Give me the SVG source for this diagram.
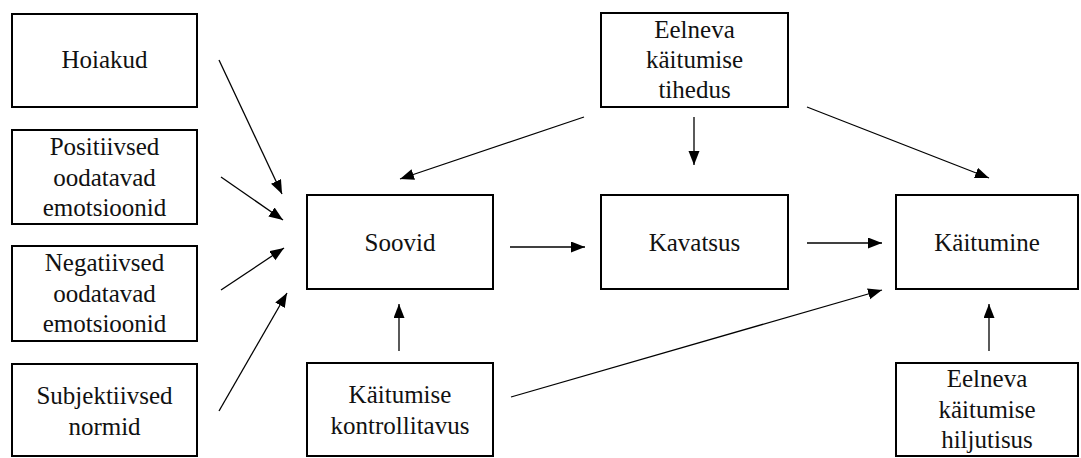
<svg xmlns="http://www.w3.org/2000/svg" width="1081" height="458" viewBox="0 0 1081 458">
  <style>
    .box { fill: #ffffff; stroke: #000000; stroke-width: 2; }
    .lbl { font-family: 'Liberation Serif', 'Times New Roman', Times, 'DejaVu Serif', 'Noto Serif', FreeSerif, serif; font-size: 25px; fill: #111111; text-anchor: middle; }
    .edge { stroke: #000000; stroke-width: 1.3; fill: none; marker-end: url(#head); }
  </style>
  <defs>
    <marker id="head" markerUnits="userSpaceOnUse" markerWidth="15" markerHeight="12" refX="14" refY="5.5" orient="auto">
      <path d="M0,0 L14,5.5 L0,11 Z" fill="#000000"/>
    </marker>
  </defs>
  <rect width="1081" height="458" fill="#ffffff"/>

  <g id="hoiakud">
    <rect class="box" x="12" y="14" width="185" height="93"/>
    <text class="lbl" x="104.5" y="68">Hoiakud</text>
  </g>
  <g id="positiivsed">
    <rect class="box" x="12" y="130" width="185" height="94"/>
    <text class="lbl" x="104.5" y="155">Positiivsed</text>
    <text class="lbl" x="104.5" y="186">oodatavad</text>
    <text class="lbl" x="104.5" y="216">emotsioonid</text>
  </g>
  <g id="negatiivsed">
    <rect class="box" x="12" y="246" width="185" height="95"/>
    <text class="lbl" x="104.5" y="271">Negatiivsed</text>
    <text class="lbl" x="104.5" y="302">oodatavad</text>
    <text class="lbl" x="104.5" y="332">emotsioonid</text>
  </g>
  <g id="subjektiivsed">
    <rect class="box" x="12" y="364" width="185" height="92"/>
    <text class="lbl" x="104.5" y="404">Subjektiivsed</text>
    <text class="lbl" x="104.5" y="435">normid</text>
  </g>

  <g id="soovid">
    <rect class="box" x="307" y="195" width="186" height="94"/>
    <text class="lbl" x="400" y="251">Soovid</text>
  </g>
  <g id="kontrollitavus">
    <rect class="box" x="307" y="363" width="186" height="93"/>
    <text class="lbl" x="400" y="403">Käitumise</text>
    <text class="lbl" x="400" y="434">kontrollitavus</text>
  </g>

  <g id="tihedus">
    <rect class="box" x="601" y="13" width="187" height="94"/>
    <text class="lbl" x="694.5" y="38">Eelneva</text>
    <text class="lbl" x="694.5" y="68">käitumise</text>
    <text class="lbl" x="694.5" y="98">tihedus</text>
  </g>
  <g id="kavatsus">
    <rect class="box" x="601" y="195" width="187" height="94"/>
    <text class="lbl" x="694.5" y="251">Kavatsus</text>
  </g>

  <g id="kaitumine">
    <rect class="box" x="896" y="195" width="182" height="94"/>
    <text class="lbl" x="987" y="251">Käitumine</text>
  </g>
  <g id="hiljutisus">
    <rect class="box" x="896" y="363" width="182" height="93"/>
    <text class="lbl" x="987" y="387">Eelneva</text>
    <text class="lbl" x="987" y="418">käitumise</text>
    <text class="lbl" x="987" y="448">hiljutisus</text>
  </g>

  <g id="connectors">
    <line class="edge" x1="219" y1="60" x2="282" y2="194"/>
    <line class="edge" x1="221" y1="177" x2="283" y2="220"/>
    <line class="edge" x1="221" y1="290" x2="284" y2="248"/>
    <line class="edge" x1="219" y1="411" x2="287" y2="293"/>
    <line class="edge" x1="584" y1="117" x2="400" y2="179"/>
    <line class="edge" x1="694" y1="117" x2="694" y2="165"/>
    <line class="edge" x1="807" y1="107" x2="989" y2="178"/>
    <line class="edge" x1="510" y1="247" x2="585" y2="247"/>
    <line class="edge" x1="807" y1="243" x2="882" y2="243"/>
    <line class="edge" x1="399" y1="351" x2="399" y2="304"/>
    <line class="edge" x1="511" y1="397" x2="882" y2="290"/>
    <line class="edge" x1="989" y1="351" x2="989" y2="304"/>
  </g>
</svg>
